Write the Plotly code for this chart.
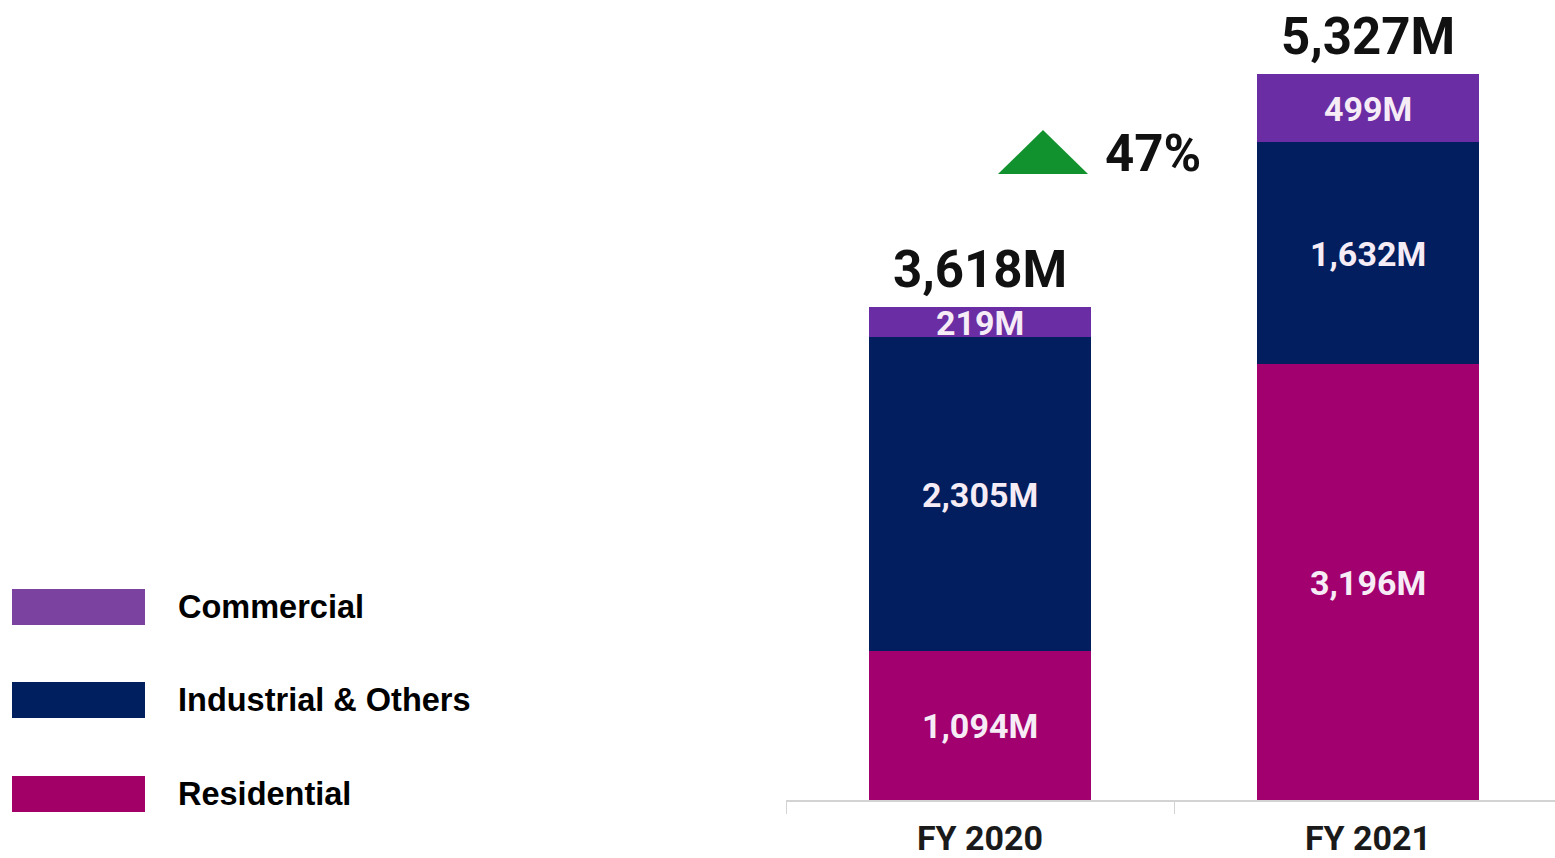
import plotly.graph_objects as go

categories = ["FY 2020", "FY 2021"]
series_names = ["Residential", "Industrial & Others", "Commercial"]
residential = [1094, 3196]
industrial = [2305, 1632]
commercial = [219, 499]
totals = [3618, 5327]
growth_label = "47%"

bar_colors = {"Residential": "#A3006F", "Industrial & Others": "#021E5E", "Commercial": "#6B2DA3"}
legend_colors = {"Residential": "#A20066", "Industrial & Others": "#001F5E", "Commercial": "#7B42A0"}
series_values = {"Residential": residential, "Industrial & Others": industrial, "Commercial": commercial}

W, H = 1555, 858


def px(x):
    return x / W


def py(y):
    return 1 - y / H


fig = go.Figure()
for name in series_names:
    fig.add_trace(go.Bar(x=categories, y=series_values[name], name=name,
                         marker=dict(color=bar_colors[name], line=dict(width=0)),
                         width=0.57, showlegend=False, hoverinfo="skip"))

annotations = []
for i, cat in enumerate(categories):
    base = 0
    for name in series_names:
        v = series_values[name][i]
        annotations.append(dict(x=cat, y=base + v / 2, xref="x", yref="y", text=f"{v:,}M",
                                showarrow=False, yshift=-1,
                                font=dict(family="Roboto", size=34, color="#F6ECF6", weight="bold")))
        base += v
    annotations.append(dict(x=cat, y=totals[i], xref="x", yref="y", text=f"{totals[i]:,}M",
                            showarrow=False, yanchor="bottom", yshift=6,
                            font=dict(family="Roboto", size=51, color="#111111", weight="bold")))

annotations.append(dict(x=px(1103), y=py(153), xref="paper", yref="paper", text=growth_label,
                        showarrow=False, xanchor="left", yanchor="middle",
                        font=dict(family="Roboto", size=51, color="#111111", weight="bold")))

shapes = [dict(type="path", xref="paper", yref="paper",
               path=f"M {px(998)},{py(174)} L {px(1088)},{py(174)} L {px(1043)},{py(130)} Z",
               fillcolor="#11922E", line=dict(width=0))]

legend_rows = [("Commercial", 607), ("Industrial & Others", 700), ("Residential", 794)]
for name, cy in legend_rows:
    shapes.append(dict(type="rect", xref="paper", yref="paper",
                       x0=px(12), x1=px(145), y0=py(cy + 18), y1=py(cy - 18),
                       fillcolor=legend_colors[name], line=dict(width=0)))
    annotations.append(dict(x=px(176), y=py(cy), xref="paper", yref="paper", text=name,
                            showarrow=False, xanchor="left", yanchor="middle",
                            font=dict(family="Liberation Sans", size=32.5, color="#000000", weight="bold")))

cat_px = 388  # pixels per category
x_left = 786
plot_height_px = 800  # from top of figure to baseline
fig.update_layout(
    width=W, height=H, barmode="stack", bargap=0,
    margin=dict(l=0, r=0, t=0, b=0, autoexpand=False),
    plot_bgcolor="white", paper_bgcolor="white",
    xaxis=dict(domain=[px(x_left), 1], range=[-0.5, -0.5 + (W - x_left) / cat_px], showgrid=False,
               automargin=False,
               showline=True, linecolor="#D3D3D3", linewidth=1.5,
               ticks="outside", tickson="boundaries", ticklen=12, tickcolor="#D3D3D3",
               ticklabelstandoff=7,
               tickfont=dict(family="Roboto", size=34, color="#1a1a1a", weight="bold")),
    yaxis=dict(domain=[py(800), 1], range=[0, plot_height_px / (726 / 5327)], visible=False,
               automargin=False),
    annotations=annotations, shapes=shapes,
)
fig.write_html("out.html", config={"displayModeBar": False},
               post_script="document.body.style.margin='0';document.body.style.overflow='hidden';")
